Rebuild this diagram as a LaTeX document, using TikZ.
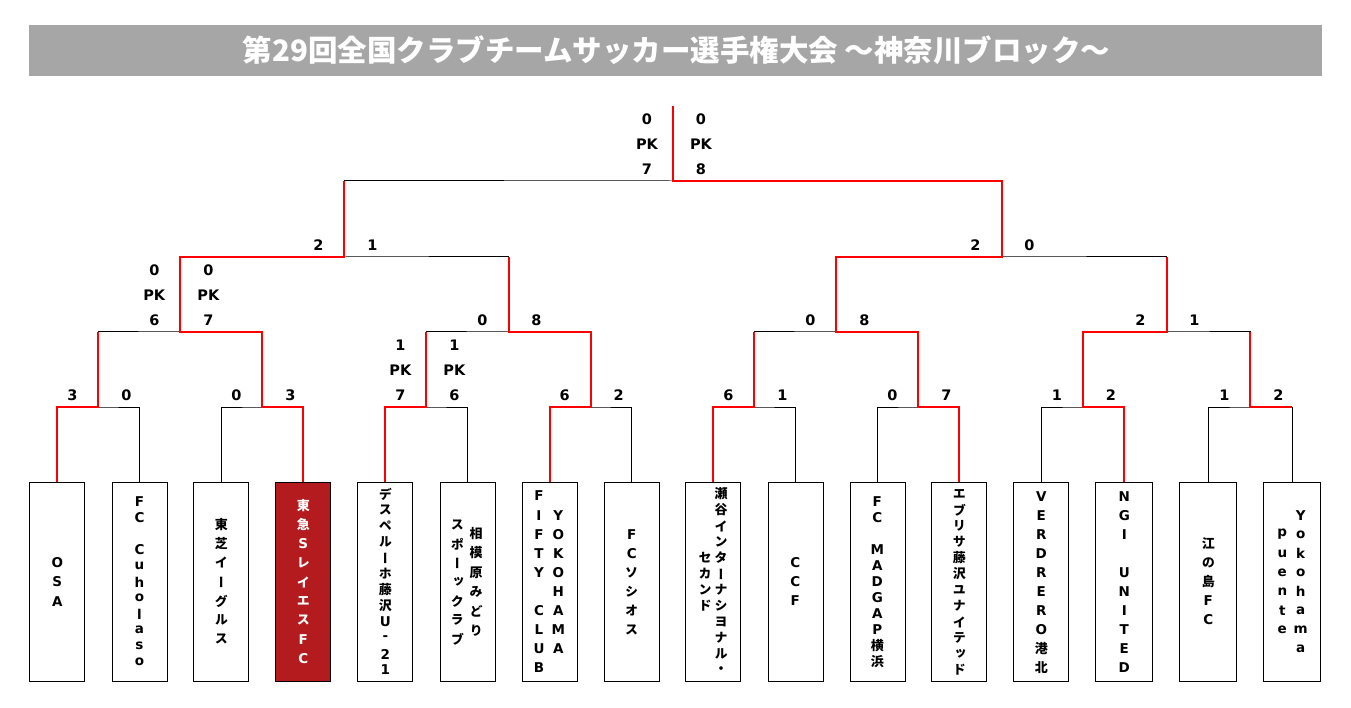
\documentclass[tikz,border=0pt]{standalone}
\usepackage{fontspec}
\setmainfont{DejaVu Sans}
\newfontfamily\jpv{Noto Sans CJK JP}[RawFeature=+vert]
\newfontfamily\jp{Noto Sans CJK JP}
\newfontfamily\latf{DejaVu Sans}
\newcommand\lat[1]{{\latf\bfseries\fontsize{13.5}{13.5}\selectfont #1}}
\definecolor{titlegray}{HTML}{A6A6A6}
\definecolor{winred}{HTML}{FF0000}
\definecolor{boxred}{HTML}{B31B1F}
\newcommand\vcolumn[6][]{%
  \foreach \ch [count=\k] in {#6}{%
    \node[vchar,#1] (#2-\k) at ({#3},{582-(#4-1)*#5/2+(\k-1)*#5}) {\ch};
  }%
}
\newcommand\scorepair[3]{%
  \node[scorelbl] (#1-l) at ([shift={(-26,-12)}]#1) {#2};
  \node[scorelbl] (#1-r) at ([shift={(28,-12)}]#1) {#3};
}
\newcommand\pkpair[3]{%
  \node[scorelbl] (#1-l1) at ([shift={(-26,-62)}]#1) {#2};
  \node[scorelbl] (#1-l2) at ([shift={(-26,-37)}]#1) {PK};
  \node[scorelbl] (#1-l3) at ([shift={(-26,-12)}]#1) {#3};
}
\newcommand\pkpairr[3]{%
  \node[scorelbl] (#1-r1) at ([shift={(28,-62)}]#1) {#2};
  \node[scorelbl] (#1-r2) at ([shift={(28,-37)}]#1) {PK};
  \node[scorelbl] (#1-r3) at ([shift={(28,-12)}]#1) {#3};
}
\begin{document}
\begin{tikzpicture}[x=1pt,y=-1pt,
  teambox/.style={draw=black,line width=1pt,minimum width=55pt,minimum height=199pt,inner sep=0pt},
  vchar/.style={font=\jpv\bfseries\fontsize{13}{13}\selectfont,inner sep=0pt,text=black},
  latin/.style={font=\latf\bfseries\fontsize{13.5}{13.5}\selectfont},
  scorelbl/.style={font=\bfseries\fontsize{14.5}{14.5}\selectfont,inner sep=0pt},
  blk/.style={draw=black,line width=1pt},
  redl/.style={draw=winred,line width=2pt,line join=miter}]
\useasboundingbox (0,0) rectangle (1351,708);
\fill[white] (0,0) rectangle (1351,708);
% title
\node[fill=titlegray,minimum width=1293pt,minimum height=51pt,inner sep=0pt,anchor=north west] (titlebar) at (29,25) {};
\node[text=white,font=\jp\bfseries\fontsize{29.5}{31}\selectfont,inner sep=0pt] (title) at (676.5,50.5) {第29回全国クラブチームサッカー選手権大会 ～神奈川ブロック～};
% team boxes
\node[teambox] (t1) at (57.3,582.3) {};
\node[teambox] (t2) at (139.5,582.3) {};
\node[teambox] (t3) at (221.3,582.3) {};
\node[teambox,fill=boxred] (t4) at (303.3,582.3) {};
\node[teambox] (t5) at (385.3,582.3) {};
\node[teambox] (t6) at (467.5,582.3) {};
\node[teambox] (t7) at (549.5,582.3) {};
\node[teambox] (t8) at (631.5,582.3) {};
\node[teambox] (t9) at (713.3,582.3) {};
\node[teambox] (t10) at (795.5,582.3) {};
\node[teambox] (t11) at (877.5,582.3) {};
\node[teambox] (t12) at (959.3,582.3) {};
\node[teambox] (t13) at (1041.3,582.3) {};
\node[teambox,minimum width=57pt] (t14) at (1124.3,582.3) {};
\node[teambox,minimum width=57pt] (t15) at (1208.3,582.3) {};
\node[teambox,minimum width=57pt] (t16) at (1292.3,582.3) {};
% team names
\vcolumn[latin]{n1}{57.3}{3}{19.2}{O,S,A}
\vcolumn[latin]{n2}{139.5}{11}{16.06}{F,C,{},C,u,h,o,l,a,s,o}
\vcolumn{n3}{221.3}{7}{19.1}{東,芝,イ,ー,グ,ル,ス}
\begin{scope}[vchar/.append style={text=white}]
\vcolumn{n4}{303.3}{9}{19.1}{東,急,\lat{S},レ,イ,エ,ス,\lat{F},\lat{C}}
\end{scope}
\vcolumn{n5}{385.3}{12}{16}{デ,ス,ペ,ル,ー,ホ,藤,沢,\lat{U},\lat{-},\lat{2},\lat{1}}
\vcolumn{n6a}{476}{6}{19.3}{相,模,原,み,ど,り}
\vcolumn{n6b}{457.3}{7}{19}{ス,ポ,ー,ッ,ク,ラ,ブ}
\vcolumn[latin]{n7a}{539}{10}{19.1}{F,I,F,T,Y,{},C,L,U,B}
\vcolumn[latin]{n7b}{558.3}{8}{19.1}{Y,O,K,O,H,A,M,A}
\vcolumn{n8}{631.7}{6}{19}{\lat{F},\lat{C},ソ,シ,オ,ス}
\vcolumn{n9a}{721}{12}{16}{瀬,谷,イ,ン,タ,ー,ナ,シ,ヨ,ナ,ル,・}
\vcolumn{n9b}{705}{4}{16}{セ,カ,ン,ド}
\vcolumn[latin]{n10}{795.3}{3}{19}{C,C,F}
\vcolumn{n11}{877.3}{11}{16}{\lat{F},\lat{C},{},\lat{M},\lat{A},\lat{D},\lat{G},\lat{A},\lat{P},横,浜}
\vcolumn{n12}{959.3}{12}{16}{エ,ブ,リ,サ,藤,沢,ユ,ナ,イ,テ,ッ,ド}
\vcolumn{n13}{1041.3}{10}{19}{\lat{V},\lat{E},\lat{R},\lat{D},\lat{R},\lat{E},\lat{R},\lat{O},港,北}
\vcolumn[latin]{n14}{1124.3}{10}{19}{N,G,I,{},U,N,I,T,E,D}
\vcolumn{n15}{1208.3}{5}{19}{江,の,島,\lat{F},\lat{C}}
\vcolumn[latin]{n16a}{1282.3}{6}{19}{p,u,e,n,t,e}
\vcolumn[latin]{n16b}{1300.7}{8}{19}{Y,o,k,o,h,a,m,a}
% junctions
\coordinate (m1) at (98.3,407);
\coordinate (m2) at (262.3,407);
\coordinate (m3) at (426.4,407);
\coordinate (m4) at (590.6,407);
\coordinate (m5) at (754.4,407);
\coordinate (m6) at (918.4,407);
\coordinate (m7) at (1082.8,407);
\coordinate (m8) at (1250.3,407);
\coordinate (q1) at (180.3,332);
\coordinate (q2) at (508.5,332);
\coordinate (q3) at (836.4,332);
\coordinate (q4) at (1166.5,332);
\coordinate (s1) at (344.4,257);
\coordinate (s2) at (1001.5,257);
\coordinate (f) at (673,181);
\coordinate (top) at (673,106);
% black bracket
\draw[blk] (t1.north) |- (m1) -| (t2.north);
\draw[blk] (t3.north) |- (m2) -| (t4.north);
\draw[blk] (t5.north) |- (m3) -| (t6.north);
\draw[blk] (t7.north) |- (m4) -| (t8.north);
\draw[blk] (t9.north) |- (m5) -| (t10.north);
\draw[blk] (t11.north) |- (m6) -| (t12.north);
\draw[blk] (t13.north) |- (m7) -| (t14.north);
\draw[blk] (t15.north) |- (m8) -| (t16.north);
\draw[blk] (m1) |- (q1) -| (m2);
\draw[blk] (m3) |- (q2) -| (m4);
\draw[blk] (m5) |- (q3) -| (m6);
\draw[blk] (m7) |- (q4) -| (m8);
\draw[blk] (q1) |- (s1) -| (q2);
\draw[blk] (q3) |- (s2) -| (q4);
\draw[blk] (s1) |- (f) -| (s2);
\draw[blk] (f) -- (top);
% winners in red
\draw[redl] (t1.north) |- (m1) -- (m1 |- q1);
\draw[redl] (t4.north) |- (m2) -- (m2 |- q1) -- (q1) -- (q1 |- s1) -- (s1) -- (s1 |- f);
\draw[redl] (t5.north) |- (m3) -- (m3 |- q2);
\draw[redl] (t7.north) |- (m4) -- (m4 |- q2) -- (q2) -- (q2 |- s1);
\draw[redl] (t9.north) |- (m5) -- (m5 |- q3);
\draw[redl] (t12.north) |- (m6) -- (m6 |- q3) -- (q3) -- (q3 |- s2) -- (s2) -- (s2 |- f) -- (f) -- (top);
\draw[redl] (t14.north) |- (m7) -- (m7 |- q4) -- (q4) -- (q4 |- s2);
\draw[redl] (m8 -| t16.north) -- (m8) -- (m8 |- q4);
% scores
\scorepair{m1}{3}{0}
\scorepair{m2}{0}{3}
\pkpair{m3}{1}{7}
\pkpairr{m3}{1}{6}
\scorepair{m4}{6}{2}
\scorepair{m5}{6}{1}
\scorepair{m6}{0}{7}
\scorepair{m7}{1}{2}
\scorepair{m8}{1}{2}
\pkpair{q1}{0}{6}
\pkpairr{q1}{0}{7}
\scorepair{q2}{0}{8}
\scorepair{q3}{0}{8}
\scorepair{q4}{2}{1}
\scorepair{s1}{2}{1}
\scorepair{s2}{2}{0}
\pkpair{f}{0}{7}
\pkpairr{f}{0}{8}
\end{tikzpicture}
\end{document}
